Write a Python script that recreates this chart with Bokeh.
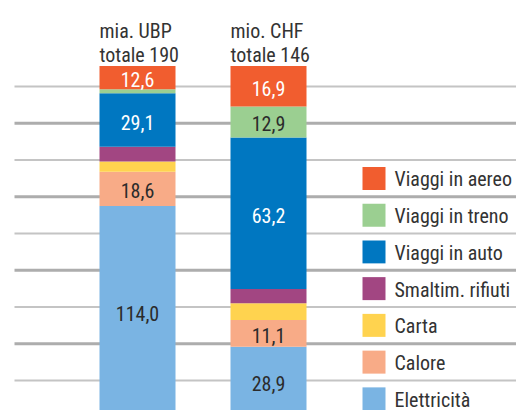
from bokeh.plotting import figure
from bokeh.models import ColumnDataSource, Range1d
from bokeh.core.properties import value
from bokeh.embed import file_html
from bokeh.resources import INLINE

# ---------------- data ----------------
units = ["mia. UBP", "mio. CHF"]
totals = [190, 146]
categories = ["Elettricità", "Calore", "Carta", "Smaltim. rifiuti",
              "Viaggi in auto", "Viaggi in treno", "Viaggi in aereo"]
ubp_values = [114.0, 18.6, 5.5, 8.0, 29.1, 2.2, 12.6]
chf_values = [28.9, 11.1, 7.0, 6.0, 63.2, 12.9, 16.9]
colors = ["#7AB4E3", "#F8AB87", "#FFD34F", "#A24682",
          "#0077C1", "#9BCF91", "#F15D2F"]
label_colors = ["#2b2b2b", "#2b2b2b", "#2b2b2b", "#2b2b2b",
                "#ffffff", "#2b2b2b", "#ffffff"]

FONT = value("Roboto Condensed")
FS = "20px"
TXT = "#333333"

# ---------------- layout ----------------
W, H = 516, 410
px_per_pct = 3.5            # vertical pixels per percent of a bar
zero_px = 415.5             # pixel (from top) of the 0 % baseline
x_unit = 131.0              # pixels between bar centres
x0_px = 137                 # pixel of first bar centre
row_px = 36.75
row0_px = 86

p = figure(width=W, height=H, output_backend="svg", toolbar_location=None,
           x_range=Range1d(-x0_px / x_unit, (W - x0_px) / x_unit),
           y_range=Range1d((zero_px - H) / px_per_pct, zero_px / px_per_pct),
           min_border=0, min_border_left=0, min_border_right=0,
           min_border_top=0, min_border_bottom=0)
p.extra_y_ranges = {"rows": Range1d((H - row0_px) / row_px, -row0_px / row_px)}
p.axis.visible = False
p.grid.visible = False
p.outline_line_color = None
p.background_fill_color = "white"
p.border_fill_color = "white"

# ---------------- grid lines ----------------
x_left = (14 - x0_px) / x_unit
x_right = (W - x0_px) / x_unit + 0.1
thin_rows = [0, 2, 4, 6, 8]
thick_rows = [1, 3, 5, 7]
p.segment(x0=[x_left] * len(thin_rows), x1=[x_right] * len(thin_rows),
          y0=thin_rows, y1=thin_rows, y_range_name="rows",
          line_color="#c4c4c4", line_width=2)
p.segment(x0=[x_left] * len(thick_rows), x1=[x_right] * len(thick_rows),
          y0=thick_rows, y1=thick_rows, y_range_name="rows",
          line_color="#adadad", line_width=3)

# ---------------- stacked bars ----------------
bar_w = 76 / x_unit
xs, bottoms, tops, fills, labels, lcols, mids = [], [], [], [], [], [], []
for i, (vals, tot) in enumerate(zip([ubp_values, chf_values], totals)):
    cum = 0.0
    for j, v in enumerate(vals):
        pct = v / tot * 100
        xs.append(i)
        bottoms.append(cum)
        tops.append(cum + pct)
        fills.append(colors[j])
        labels.append(f"{v:.1f}".replace(".", ",") if v >= 10 else "")
        lcols.append(label_colors[j])
        mids.append(cum + pct / 2)
        cum += pct

src = ColumnDataSource(dict(x=xs, bottom=bottoms, top=tops, fill=fills,
                            label=labels, lcol=lcols, mid=mids))
p.vbar(x="x", bottom="bottom", top="top", width=bar_w, source=src,
       fill_color="fill", line_color=None)
p.text(x="x", y="mid", text="label", source=src, text_color="lcol",
       text_font=FONT, text_font_size=FS, text_align="center",
       text_baseline="middle", y_offset=2)

# ---------------- titles ----------------
tx = [i - bar_w / 2 for i in range(len(units))]
p.text(x=tx, y=[100 + 35.5 / px_per_pct] * 2, text=units,
       text_font=FONT, text_font_size=FS, text_color=TXT,
       text_align="left", text_baseline="alphabetic")
p.text(x=tx, y=[100 + 11.5 / px_per_pct] * 2,
       text=[f"totale {t}" for t in totals],
       text_font=FONT, text_font_size=FS, text_color=TXT,
       text_align="left", text_baseline="alphabetic")

# ---------------- legend ----------------
leg_rows = [2.5 + k for k in range(len(categories))]
leg_cats = categories[::-1]
leg_cols = colors[::-1]
sq_x = (373.5 - x0_px) / x_unit
tx_x = (394 - x0_px) / x_unit
p.scatter(x=[sq_x] * len(leg_rows), y=leg_rows, y_range_name="rows",
          marker="square", size=23, fill_color=leg_cols, line_color=None)
p.text(x=[tx_x] * len(leg_rows), y=leg_rows, text=leg_cats,
       y_range_name="rows", text_font=FONT, text_font_size=FS,
       text_color=TXT, text_align="left", text_baseline="middle", y_offset=1)

open("out.html", "w").write(file_html(p, INLINE))
